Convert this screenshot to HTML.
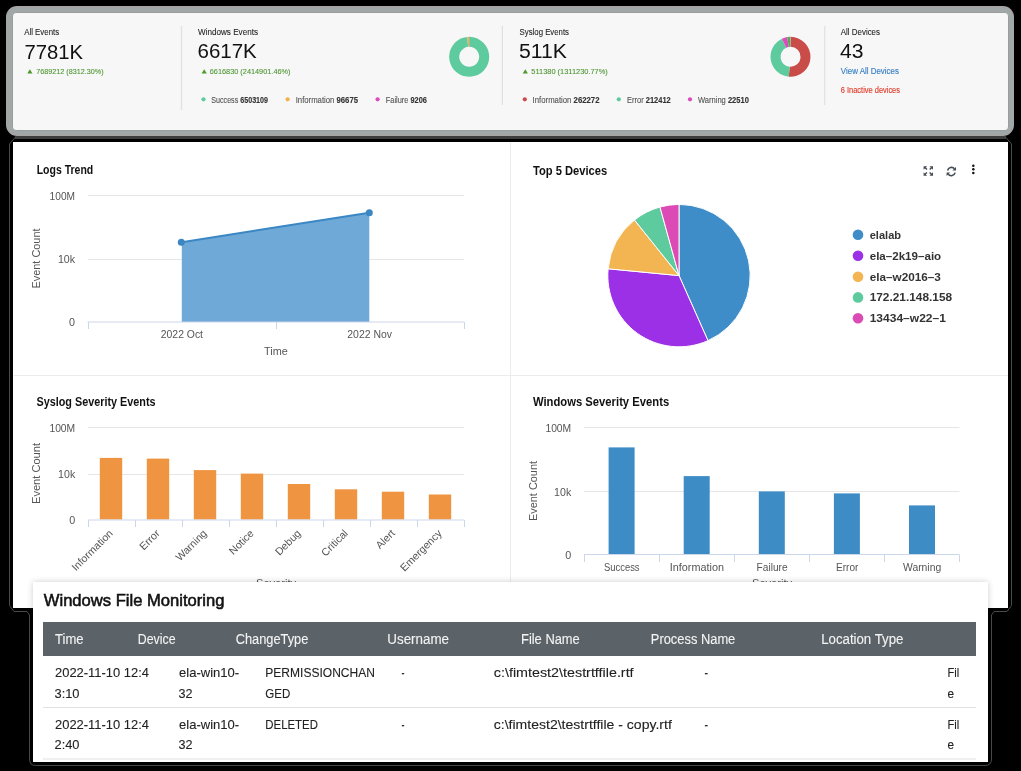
<!DOCTYPE html><html><head><meta charset="utf-8"><style>
html,body{margin:0;padding:0;background:#000;width:1021px;height:771px;overflow:hidden}
svg{display:block;will-change:transform;font-family:"Liberation Sans",sans-serif}
</style></head><body>
<svg width="1021" height="771" viewBox="0 0 1021 771">
<defs><filter id="sh" x="-5%" y="-10%" width="110%" height="120%"><feGaussianBlur in="SourceAlpha" stdDeviation="3"/><feOffset dy="0"/><feComponentTransfer><feFuncA type="linear" slope="0.2"/></feComponentTransfer><feMerge><feMergeNode/><feMergeNode in="SourceGraphic"/></feMerge></filter></defs>
<rect width="1021" height="771" fill="#000"/>

<rect x="6" y="6" width="1008" height="130" rx="11" fill="#a5a5a5"/>
<rect x="9.5" y="9.5" width="1001" height="123" rx="8" fill="none" stroke="#9aabab" stroke-width="1.3"/>
<rect x="12.5" y="12.5" width="996" height="118" rx="3.5" fill="#f7f7f7" stroke="#999e9e" stroke-width="1"/>
<rect x="180.9" y="26" width="1.2" height="84" fill="#e0e0e0"/>
<rect x="501.79999999999995" y="26" width="1.2" height="79" fill="#e0e0e0"/>
<rect x="824.1" y="26" width="1.2" height="79" fill="#e0e0e0"/>
<text x="24.2" y="34.7" font-size="8.7" fill="#222" textLength="35" lengthAdjust="spacingAndGlyphs" stroke="#222" stroke-width="0.08">All Events</text>
<text x="198" y="34.7" font-size="8.7" fill="#222" textLength="60" lengthAdjust="spacingAndGlyphs" stroke="#222" stroke-width="0.08">Windows Events</text>
<text x="519.6" y="34.7" font-size="8.7" fill="#222" textLength="49.4" lengthAdjust="spacingAndGlyphs" stroke="#222" stroke-width="0.08">Syslog Events</text>
<text x="840.8" y="34.8" font-size="8.7" fill="#222" textLength="39.2" lengthAdjust="spacingAndGlyphs" stroke="#222" stroke-width="0.08">All Devices</text>
<text x="24.5" y="58.5" font-size="20" fill="#111" textLength="58.5" lengthAdjust="spacingAndGlyphs" >7781K</text>
<text x="197.5" y="58.3" font-size="20" fill="#111" textLength="59.3" lengthAdjust="spacingAndGlyphs" >6617K</text>
<text x="519" y="58.3" font-size="20" fill="#111" textLength="48" lengthAdjust="spacingAndGlyphs" >511K</text>
<text x="840" y="58.4" font-size="20" fill="#111" textLength="23.5" lengthAdjust="spacingAndGlyphs" >43</text>
<path d="M27.3,73.5 L29.900000000000002,69.2 L32.5,73.5 Z" fill="#4a9a2a"/>
<text x="36.2" y="74" font-size="7.9" fill="#4a9430" textLength="67.5" lengthAdjust="spacingAndGlyphs" stroke="#4a9430" stroke-width="0.08">7689212 (8312.30%)</text>
<path d="M201.6,73.5 L204.2,69.2 L206.79999999999998,73.5 Z" fill="#4a9a2a"/>
<text x="209.8" y="74" font-size="7.9" fill="#4a9430" textLength="80.7" lengthAdjust="spacingAndGlyphs" stroke="#4a9430" stroke-width="0.08">6616830 (2414901.46%)</text>
<path d="M522.7,73.5 L525.3000000000001,69.2 L527.9000000000001,73.5 Z" fill="#4a9a2a"/>
<text x="531.3" y="74" font-size="7.9" fill="#4a9430" textLength="76.5" lengthAdjust="spacingAndGlyphs" stroke="#4a9430" stroke-width="0.08">511380 (1311230.77%)</text>
<text x="840.8" y="74" font-size="8.9" fill="#3a80c4" textLength="58.2" lengthAdjust="spacingAndGlyphs" stroke="#3a80c4" stroke-width="0.15">View All Devices</text>
<text x="840.8" y="93.2" font-size="8.5" fill="#e0402f" textLength="59.2" lengthAdjust="spacingAndGlyphs" stroke="#e0402f" stroke-width="0.15">6 Inactive devices</text>
<circle cx="203.5" cy="99.3" r="2.1" fill="#5ecb9f"/>
<text x="211.3" y="102.8" font-size="8.8" fill="#555" stroke="#555" stroke-width="0.12" textLength="56.69999999999999" lengthAdjust="spacingAndGlyphs">Success <tspan font-weight="bold" fill="#333" stroke="#333">6503109</tspan></text>
<circle cx="287.6" cy="99.3" r="2.1" fill="#f5b04e"/>
<text x="295.7" y="102.8" font-size="8.8" fill="#555" stroke="#555" stroke-width="0.12" textLength="62.30000000000001" lengthAdjust="spacingAndGlyphs">Information <tspan font-weight="bold" fill="#333" stroke="#333">96675</tspan></text>
<circle cx="377.6" cy="99.3" r="2.1" fill="#dc4bbd"/>
<text x="385.8" y="102.8" font-size="8.8" fill="#555" stroke="#555" stroke-width="0.12" textLength="41.099999999999966" lengthAdjust="spacingAndGlyphs">Failure <tspan font-weight="bold" fill="#333" stroke="#333">9206</tspan></text>
<circle cx="524.8" cy="99.3" r="2.1" fill="#c94c49"/>
<text x="532.6" y="102.8" font-size="8.8" fill="#555" stroke="#555" stroke-width="0.12" textLength="66.89999999999998" lengthAdjust="spacingAndGlyphs">Information <tspan font-weight="bold" fill="#333" stroke="#333">262272</tspan></text>
<circle cx="618.8" cy="99.3" r="2.1" fill="#5ecb9f"/>
<text x="627" y="102.8" font-size="8.8" fill="#555" stroke="#555" stroke-width="0.12" textLength="43.799999999999955" lengthAdjust="spacingAndGlyphs">Error <tspan font-weight="bold" fill="#333" stroke="#333">212412</tspan></text>
<circle cx="690" cy="99.3" r="2.1" fill="#dc4bbd"/>
<text x="698" y="102.8" font-size="8.8" fill="#555" stroke="#555" stroke-width="0.12" textLength="50.89999999999998" lengthAdjust="spacingAndGlyphs">Warning <tspan font-weight="bold" fill="#333" stroke="#333">22510</tspan></text>
<path d="M469.20,36.80A20,20 0 1 1 467.19,36.90L468.20,46.85A10,10 0 1 0 469.20,46.80Z" fill="#5ecb9f"/>
<path d="M467.19,36.90A20,20 0 0 1 469.02,36.80L469.11,46.80A10,10 0 0 0 468.20,46.85Z" fill="#f5b04e"/>
<path d="M469.02,36.80A20,20 0 0 1 469.20,36.80L469.20,46.80A10,10 0 0 0 469.11,46.80Z" fill="#dc4bbd"/>
<path d="M790.50,36.80A20,20 0 1 1 788.80,76.73L789.65,66.76A10,10 0 1 0 790.50,46.80Z" fill="#c94c49"/>
<path d="M788.80,76.73A20,20 0 0 1 781.93,38.73L786.21,47.77A10,10 0 0 0 789.65,66.76Z" fill="#5ecb9f"/>
<path d="M781.93,38.73A20,20 0 0 1 787.19,37.08L788.85,46.94A10,10 0 0 0 786.21,47.77Z" fill="#dc4bbd"/>
<path d="M787.19,37.08A20,20 0 0 1 790.13,36.80L790.32,46.80A10,10 0 0 0 788.85,46.94Z" fill="#4caf50"/>
<path d="M790.13,36.80A20,20 0 0 1 790.50,36.80L790.50,46.80A10,10 0 0 0 790.32,46.80Z" fill="#b9b4c8"/>
<rect x="15" y="136" width="991" height="3" fill="#3e3e3e"/>
<path d="M15.5,137 L9.5,144 V605.5 L14,611.5 H27 L29.5,615 V759 Q29.5,765.5 35.5,765.5 H985 Q991.5,765.5 991.5,759 V615 L994,611.5 H1007 L1011.5,605.5 V144 L1005.5,137" fill="none" stroke="#4a4a4a" stroke-width="1"/>
<rect x="13" y="142" width="995" height="466" fill="#fff"/>
<rect x="510" y="142" width="1" height="466" fill="#ececec"/>
<rect x="13" y="375" width="995" height="1" fill="#ececec"/>
<text x="36.7" y="174.2" font-size="12.2" fill="#111" font-weight="bold" textLength="56.5" lengthAdjust="spacingAndGlyphs" >Logs Trend</text>
<rect x="88" y="195" width="376" height="1" fill="#e6e6e6"/>
<rect x="88" y="259" width="376" height="1" fill="#e6e6e6"/>
<text x="49.6" y="199.9" font-size="10.2" fill="#555" textLength="25.4" lengthAdjust="spacingAndGlyphs" >100M</text>
<text x="57.9" y="263.3" font-size="10.2" fill="#555" textLength="17.1" lengthAdjust="spacingAndGlyphs" >10k</text>
<text x="69" y="325.7" font-size="10.2" fill="#555" textLength="6" lengthAdjust="spacingAndGlyphs" >0</text>
<path d="M181.8,242.2 L369.3,212.7 L369.3,322 L181.8,322 Z" fill="#6fa9d7"/>
<path d="M181.8,242.2 L369.3,212.7" stroke="#3a87c4" stroke-width="2" fill="none"/>
<circle cx="181.3" cy="242.2" r="3.5" fill="#3a87c4"/><circle cx="369.3" cy="212.7" r="3.5" fill="#3a87c4"/>
<rect x="87.5" y="321.5" width="376.5" height="1" fill="#ccd6eb"/>
<rect x="88" y="322" width="1" height="7" fill="#ccd6eb"/>
<rect x="276" y="322" width="1" height="7" fill="#ccd6eb"/>
<rect x="464" y="322" width="1" height="7" fill="#ccd6eb"/>
<text x="160.8" y="338.2" font-size="10.4" fill="#555" textLength="42.2" lengthAdjust="spacingAndGlyphs" >2022 Oct</text>
<text x="347.3" y="338.2" font-size="10.4" fill="#555" textLength="44.7" lengthAdjust="spacingAndGlyphs" >2022 Nov</text>
<text x="264" y="355" font-size="10.8" fill="#555" textLength="23.7" lengthAdjust="spacingAndGlyphs" >Time</text>
<text transform="translate(39.6,288.5) rotate(-90)" x="0" y="0" font-size="10.4" fill="#555" textLength="60" lengthAdjust="spacingAndGlyphs">Event Count</text>
<text x="533" y="174.5" font-size="12.6" fill="#111" font-weight="bold" textLength="74.2" lengthAdjust="spacingAndGlyphs" >Top 5 Devices</text>
<path d="M679,275.6L679.00,204.40A71.2,71.2 0 0 1 707.96,340.64Z" fill="#3f8dc8" stroke="#fff" stroke-width="1" stroke-linejoin="round"/>
<path d="M679,275.6L707.96,340.64A71.2,71.2 0 0 1 608.13,268.78Z" fill="#9b30e6" stroke="#fff" stroke-width="1" stroke-linejoin="round"/>
<path d="M679,275.6L608.13,268.78A71.2,71.2 0 0 1 634.48,220.03Z" fill="#f2b552" stroke="#fff" stroke-width="1" stroke-linejoin="round"/>
<path d="M679,275.6L634.48,220.03A71.2,71.2 0 0 1 659.97,206.99Z" fill="#5ecb9f" stroke="#fff" stroke-width="1" stroke-linejoin="round"/>
<path d="M679,275.6L659.97,206.99A71.2,71.2 0 0 1 679.00,204.40Z" fill="#dc4bb5" stroke="#fff" stroke-width="1" stroke-linejoin="round"/>
<circle cx="858" cy="234.8" r="5.3" fill="#3f8dc8"/>
<text x="869.7" y="238.8" font-size="11.5" fill="#333" font-weight="bold" textLength="31.4" lengthAdjust="spacingAndGlyphs" >elalab</text>
<circle cx="858" cy="255.8" r="5.3" fill="#9b30e6"/>
<text x="869.7" y="259.8" font-size="11.5" fill="#333" font-weight="bold" textLength="71.5" lengthAdjust="spacingAndGlyphs" >ela–2k19–aio</text>
<circle cx="858" cy="276.8" r="5.3" fill="#f2b552"/>
<text x="869.7" y="280.8" font-size="11.5" fill="#333" font-weight="bold" textLength="71.2" lengthAdjust="spacingAndGlyphs" >ela–w2016–3</text>
<circle cx="858" cy="297.4" r="5.3" fill="#5ecb9f"/>
<text x="869.7" y="301.4" font-size="11.5" fill="#333" font-weight="bold" textLength="82.4" lengthAdjust="spacingAndGlyphs" >172.21.148.158</text>
<circle cx="858" cy="318.3" r="5.3" fill="#dc4bb5"/>
<text x="869.7" y="322.3" font-size="11.5" fill="#333" font-weight="bold" textLength="76.2" lengthAdjust="spacingAndGlyphs" >13434–w22–1</text>
<g fill="#444c55"><path d="M923.6,166.2 h3.5 l-1.2,1.2 1.6,1.6 -1,1 -1.6,-1.6 -1.3,1.3 Z"/><path d="M933,166.2 v3.5 l-1.2,-1.2 -1.6,1.6 -1,-1 1.6,-1.6 -1.3,-1.3 Z"/><path d="M923.6,175.8 v-3.5 l1.2,1.2 1.6,-1.6 1,1 -1.6,1.6 1.3,1.3 Z"/><path d="M933,175.8 h-3.5 l1.2,-1.2 -1.6,-1.6 1,-1 1.6,1.6 1.3,-1.3 Z"/></g>
<path d="M947.6,170.5 A4,4 0 0 1 954.5,168.8 M955.1,172.6 A4,4 0 0 1 948.2,174.3" stroke="#444c55" stroke-width="1.6" fill="none"/><path d="M956,166.9 v3.6 h-3.6 Z M946.6,176.1 v-3.6 h3.6 Z" fill="#444c55"/>
<circle cx="973.3" cy="165.8" r="1.25" fill="#111"/><circle cx="973.3" cy="169.35" r="1.25" fill="#111"/><circle cx="973.3" cy="172.9" r="1.25" fill="#111"/>
<text x="36.5" y="406.4" font-size="12.4" fill="#111" font-weight="bold" textLength="119.1" lengthAdjust="spacingAndGlyphs" >Syslog Severity Events</text>
<rect x="88" y="427" width="376" height="1" fill="#e6e6e6"/>
<rect x="88" y="474" width="376" height="1" fill="#e6e6e6"/>
<text x="49.4" y="431.8" font-size="10.2" fill="#555" textLength="25.8" lengthAdjust="spacingAndGlyphs" >100M</text>
<text x="58.1" y="477.8" font-size="10.2" fill="#555" textLength="17.1" lengthAdjust="spacingAndGlyphs" >10k</text>
<text x="69.2" y="524" font-size="10.2" fill="#555" textLength="6" lengthAdjust="spacingAndGlyphs" >0</text>
<rect x="99.8" y="457.9" width="22.4" height="61.6" fill="#ef9440"/>
<rect x="146.8" y="458.6" width="22.4" height="60.9" fill="#ef9440"/>
<rect x="193.8" y="470.1" width="22.4" height="49.4" fill="#ef9440"/>
<rect x="240.8" y="473.6" width="22.4" height="45.9" fill="#ef9440"/>
<rect x="287.8" y="484" width="22.4" height="35.5" fill="#ef9440"/>
<rect x="334.8" y="489.3" width="22.4" height="30.2" fill="#ef9440"/>
<rect x="381.8" y="491.7" width="22.4" height="27.8" fill="#ef9440"/>
<rect x="428.8" y="494.5" width="22.4" height="25.0" fill="#ef9440"/>
<rect x="88" y="519.5" width="376" height="1" fill="#ccd6eb"/>
<rect x="88" y="520" width="1" height="7" fill="#ccd6eb"/>
<rect x="135" y="520" width="1" height="7" fill="#ccd6eb"/>
<rect x="182" y="520" width="1" height="7" fill="#ccd6eb"/>
<rect x="229" y="520" width="1" height="7" fill="#ccd6eb"/>
<rect x="276" y="520" width="1" height="7" fill="#ccd6eb"/>
<rect x="323" y="520" width="1" height="7" fill="#ccd6eb"/>
<rect x="370" y="520" width="1" height="7" fill="#ccd6eb"/>
<rect x="417" y="520" width="1" height="7" fill="#ccd6eb"/>
<rect x="464" y="520" width="1" height="7" fill="#ccd6eb"/>
<text transform="translate(113.5,534) rotate(-45)" x="0" y="0" font-size="10.6" fill="#555" text-anchor="end">Information</text>
<text transform="translate(160.5,534) rotate(-45)" x="0" y="0" font-size="10.6" fill="#555" text-anchor="end">Error</text>
<text transform="translate(207.5,534) rotate(-45)" x="0" y="0" font-size="10.6" fill="#555" text-anchor="end">Warning</text>
<text transform="translate(254.5,534) rotate(-45)" x="0" y="0" font-size="10.6" fill="#555" text-anchor="end">Notice</text>
<text transform="translate(301.5,534) rotate(-45)" x="0" y="0" font-size="10.6" fill="#555" text-anchor="end">Debug</text>
<text transform="translate(348.5,534) rotate(-45)" x="0" y="0" font-size="10.6" fill="#555" text-anchor="end">Critical</text>
<text transform="translate(395.5,534) rotate(-45)" x="0" y="0" font-size="10.6" fill="#555" text-anchor="end">Alert</text>
<text transform="translate(442.5,534) rotate(-45)" x="0" y="0" font-size="10.6" fill="#555" text-anchor="end">Emergency</text>
<text transform="translate(39.6,504) rotate(-90)" x="0" y="0" font-size="10.4" fill="#555" textLength="61" lengthAdjust="spacingAndGlyphs">Event Count</text>
<text x="256" y="587" font-size="10.4" fill="#555" textLength="40" lengthAdjust="spacingAndGlyphs" >Severity</text>
<text x="532.9" y="406.4" font-size="12.6" fill="#111" font-weight="bold" textLength="136.3" lengthAdjust="spacingAndGlyphs" >Windows Severity Events</text>
<rect x="584" y="427" width="375.5" height="1" fill="#e6e6e6"/>
<rect x="584" y="491" width="375.5" height="1" fill="#e6e6e6"/>
<text x="545.4" y="431.8" font-size="10.2" fill="#555" textLength="25.8" lengthAdjust="spacingAndGlyphs" >100M</text>
<text x="554.1" y="495.5" font-size="10.2" fill="#555" textLength="17.1" lengthAdjust="spacingAndGlyphs" >10k</text>
<text x="565.2" y="558.8" font-size="10.2" fill="#555" textLength="6" lengthAdjust="spacingAndGlyphs" >0</text>
<rect x="608.6" y="447.4" width="26" height="107.1" fill="#3d8cc6"/>
<rect x="683.7" y="476.1" width="26" height="78.4" fill="#3d8cc6"/>
<rect x="758.8" y="491.4" width="26" height="63.1" fill="#3d8cc6"/>
<rect x="833.9" y="493.4" width="26" height="61.1" fill="#3d8cc6"/>
<rect x="909.0" y="505.4" width="26" height="49.1" fill="#3d8cc6"/>
<rect x="584" y="554" width="375.5" height="1" fill="#ccd6eb"/>
<rect x="584" y="555" width="1" height="7" fill="#ccd6eb"/>
<rect x="659" y="555" width="1" height="7" fill="#ccd6eb"/>
<rect x="734" y="555" width="1" height="7" fill="#ccd6eb"/>
<rect x="809" y="555" width="1" height="7" fill="#ccd6eb"/>
<rect x="884" y="555" width="1" height="7" fill="#ccd6eb"/>
<rect x="959" y="555" width="1" height="7" fill="#ccd6eb"/>
<text x="603.9" y="570.6" font-size="10" fill="#555" textLength="35.7" lengthAdjust="spacingAndGlyphs" >Success</text>
<text x="669.8" y="570.6" font-size="10" fill="#555" textLength="54.2" lengthAdjust="spacingAndGlyphs" >Information</text>
<text x="756.6" y="570.6" font-size="10" fill="#555" textLength="31" lengthAdjust="spacingAndGlyphs" >Failure</text>
<text x="836" y="570.6" font-size="10" fill="#555" textLength="22.4" lengthAdjust="spacingAndGlyphs" >Error</text>
<text x="903" y="570.6" font-size="10" fill="#555" textLength="38.2" lengthAdjust="spacingAndGlyphs" >Warning</text>
<text transform="translate(536.8,521) rotate(-90)" x="0" y="0" font-size="10.4" fill="#555" textLength="60" lengthAdjust="spacingAndGlyphs">Event Count</text>
<text x="752" y="587" font-size="10.4" fill="#555" textLength="40" lengthAdjust="spacingAndGlyphs" >Severity</text>
<rect x="33" y="582" width="955" height="180" fill="#fff" filter="url(#sh)"/>
<text x="43.8" y="605.6" font-size="16.6" fill="#111" textLength="180.7" lengthAdjust="spacingAndGlyphs" stroke="#111" stroke-width="0.55">Windows File Monitoring</text>
<rect x="43" y="622" width="933" height="34" fill="#5b6369"/>
<text x="55" y="643.8" font-size="13.8" fill="#f4f4f4" textLength="28.5" lengthAdjust="spacingAndGlyphs" stroke="#f4f4f4" stroke-width="0.1">Time</text>
<text x="137.8" y="643.8" font-size="13.8" fill="#f4f4f4" textLength="37.7" lengthAdjust="spacingAndGlyphs" stroke="#f4f4f4" stroke-width="0.1">Device</text>
<text x="235.7" y="643.8" font-size="13.8" fill="#f4f4f4" textLength="72.6" lengthAdjust="spacingAndGlyphs" stroke="#f4f4f4" stroke-width="0.1">ChangeType</text>
<text x="387.3" y="643.8" font-size="13.8" fill="#f4f4f4" textLength="61.7" lengthAdjust="spacingAndGlyphs" stroke="#f4f4f4" stroke-width="0.1">Username</text>
<text x="521" y="643.8" font-size="13.8" fill="#f4f4f4" textLength="58.8" lengthAdjust="spacingAndGlyphs" stroke="#f4f4f4" stroke-width="0.1">File Name</text>
<text x="650.8" y="643.8" font-size="13.8" fill="#f4f4f4" textLength="84.5" lengthAdjust="spacingAndGlyphs" stroke="#f4f4f4" stroke-width="0.1">Process Name</text>
<text x="821.2" y="643.8" font-size="13.8" fill="#f4f4f4" textLength="82.2" lengthAdjust="spacingAndGlyphs" stroke="#f4f4f4" stroke-width="0.1">Location Type</text>
<rect x="43" y="707" width="933" height="1" fill="#e2e2e2"/>
<rect x="43" y="758.5" width="933" height="1" fill="#e2e2e2"/>
<text x="55" y="676.7" font-size="13" fill="#222" textLength="94" lengthAdjust="spacingAndGlyphs" stroke="#222" stroke-width="0.1">2022-11-10 12:4</text>
<text x="54.5" y="697.5" font-size="13" fill="#222" textLength="25" lengthAdjust="spacingAndGlyphs" stroke="#222" stroke-width="0.1">3:10</text>
<text x="179" y="676.7" font-size="13" fill="#222" textLength="60.2" lengthAdjust="spacingAndGlyphs" stroke="#222" stroke-width="0.1">ela-win10-</text>
<text x="178.5" y="697.5" font-size="13" fill="#222" textLength="14" lengthAdjust="spacingAndGlyphs" stroke="#222" stroke-width="0.1">32</text>
<text x="265.3" y="676.7" font-size="13" fill="#222" textLength="109.6" lengthAdjust="spacingAndGlyphs" stroke="#222" stroke-width="0.1">PERMISSIONCHAN</text>
<text x="265.3" y="697.5" font-size="13" fill="#222" textLength="25" lengthAdjust="spacingAndGlyphs" stroke="#222" stroke-width="0.1">GED</text>
<text x="401.4" y="676.7" font-size="13" fill="#222" textLength="3" lengthAdjust="spacingAndGlyphs" stroke="#222" stroke-width="0.1">-</text>
<text x="493.8" y="676.7" font-size="13" fill="#222" textLength="139.8" lengthAdjust="spacingAndGlyphs" stroke="#222" stroke-width="0.1">c:\fimtest2\testrtffile.rtf</text>
<text x="704.5" y="676.7" font-size="13" fill="#222" textLength="3.5" lengthAdjust="spacingAndGlyphs" stroke="#222" stroke-width="0.1">-</text>
<text x="947.4" y="676.7" font-size="13" fill="#222" textLength="11.8" lengthAdjust="spacingAndGlyphs" stroke="#222" stroke-width="0.1">Fil</text>
<text x="947.4" y="697.5" font-size="13" fill="#222" textLength="6.6" lengthAdjust="spacingAndGlyphs" stroke="#222" stroke-width="0.1">e</text>
<text x="55" y="729.4" font-size="13" fill="#222" textLength="94" lengthAdjust="spacingAndGlyphs" stroke="#222" stroke-width="0.1">2022-11-10 12:4</text>
<text x="54.5" y="749.4" font-size="13" fill="#222" textLength="25" lengthAdjust="spacingAndGlyphs" stroke="#222" stroke-width="0.1">2:40</text>
<text x="179" y="729.4" font-size="13" fill="#222" textLength="60.2" lengthAdjust="spacingAndGlyphs" stroke="#222" stroke-width="0.1">ela-win10-</text>
<text x="178.5" y="749.4" font-size="13" fill="#222" textLength="14" lengthAdjust="spacingAndGlyphs" stroke="#222" stroke-width="0.1">32</text>
<text x="265.3" y="729.4" font-size="13" fill="#222" textLength="52.6" lengthAdjust="spacingAndGlyphs" stroke="#222" stroke-width="0.1">DELETED</text>
<text x="401.4" y="729.4" font-size="13" fill="#222" textLength="3" lengthAdjust="spacingAndGlyphs" stroke="#222" stroke-width="0.1">-</text>
<text x="493.8" y="729.4" font-size="13" fill="#222" textLength="178" lengthAdjust="spacingAndGlyphs" stroke="#222" stroke-width="0.1">c:\fimtest2\testrtffile - copy.rtf</text>
<text x="704.5" y="729.4" font-size="13" fill="#222" textLength="3.5" lengthAdjust="spacingAndGlyphs" stroke="#222" stroke-width="0.1">-</text>
<text x="947.4" y="729.4" font-size="13" fill="#222" textLength="11.8" lengthAdjust="spacingAndGlyphs" stroke="#222" stroke-width="0.1">Fil</text>
<text x="947.4" y="749.4" font-size="13" fill="#222" textLength="6.6" lengthAdjust="spacingAndGlyphs" stroke="#222" stroke-width="0.1">e</text>
</svg></body></html>
